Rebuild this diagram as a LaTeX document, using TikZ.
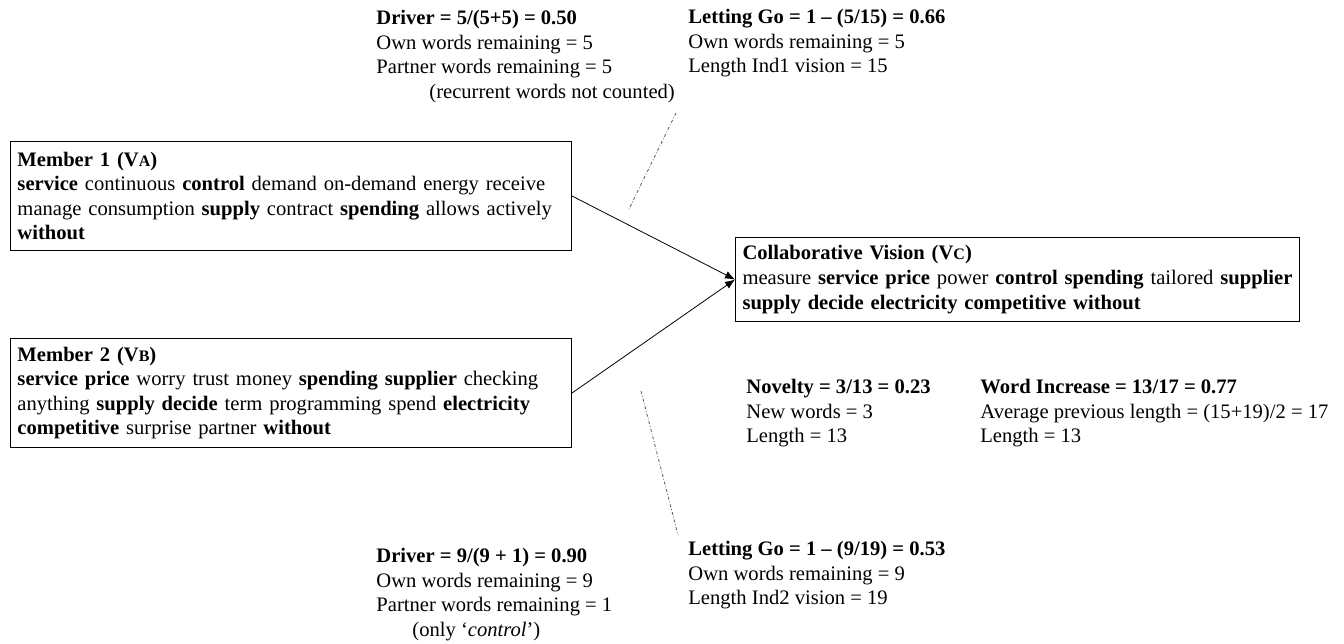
\documentclass[tikz,border=0pt]{standalone}
\usepackage{fontspec}
\setmainfont{Liberation Serif}
\usepackage{tikz}
\usetikzlibrary{arrows.meta}

\newcommand{\smcap}[1]{{\fontsize{8}{8}\selectfont #1}}

\tikzset{
  visionbox/.style={draw, line width=0.5pt, anchor=north west, align=left,
    inner xsep=3.5pt, inner ysep=0pt},
  note/.style={anchor=north west, align=left, inner sep=0pt},
  link/.style={line width=0.4pt, -{Latex[length=5pt,width=4pt]}},
  guide/.style={line width=0.4pt, gray!70!black, dash pattern=on 1.5pt off 1pt on 0.4pt off 1pt}
}

\begin{document}
\begin{tikzpicture}[x=0.5pt, y=-0.5pt, font=\fontsize{10.3}{12.3}\selectfont]
\useasboundingbox (0,0) rectangle (1344,643);

% Individual visions
\node[visionbox, minimum width=280.5pt, minimum height=54.5pt, text width=273.5pt] (va) at (10,141)
  {\textbf{Member 1 (V\smcap{A})}\\
   \textbf{service} continuous \textbf{control} demand on-demand energy receive\\
   manage consumption \textbf{supply} contract \textbf{spending} allows actively\\
   \textbf{without}};
\node[visionbox, minimum width=280.5pt, minimum height=54.5pt, text width=273.5pt] (vb) at (10,338)
  {\textbf{Member 2 (V\smcap{B})}\\
   \textbf{service price} worry trust money \textbf{spending supplier} checking\\
   anything \textbf{supply decide} term programming spend \textbf{electricity}\\
   \textbf{competitive} surprise partner \textbf{without}};

% Collaborative vision
\node[visionbox, minimum width=282pt, minimum height=42pt, text width=275pt] (vc) at (735,237)
  {\textbf{Collaborative Vision (V\smcap{C})}\\
   measure \textbf{service price} power \textbf{control spending} tailored \textbf{supplier}\\
   \textbf{supply decide electricity competitive without}};

\draw[link] (va.east) -- (vc.west);
\draw[link] (vb.east) -- (vc.west);

% Measures for member 1
\node[note] (drva) at (376,10)
  {\textbf{Driver = 5/(5+5) = 0.50}\\
   Own words remaining = 5\\
   Partner words remaining = 5\\
   \hspace*{26.5pt}(recurrent words not counted)};
\node[note] (lgva) at (688,9)
  {\textbf{Letting Go = 1 -- (5/15) = 0.66}\\
   Own words remaining = 5\\
   Length Ind1 vision = 15};

% Measures for member 2
\node[note] (drvb) at (376,548)
  {\textbf{Driver = 9/(9 + 1) = 0.90}\\
   Own words remaining = 9\\
   Partner words remaining = 1\\
   \hspace*{18pt}(only `\textit{control}')};
\node[note] (lgvb) at (688,541)
  {\textbf{Letting Go = 1 -- (9/19) = 0.53}\\
   Own words remaining = 9\\
   Length Ind2 vision = 19};

% Measures for the collaborative vision
\node[note] (nov) at (746,379)
  {\textbf{Novelty = 3/13 = 0.23}\\
   New words = 3\\
   Length = 13};
\node[note] (winc) at (980,379)
  {\textbf{Word Increase = 13/17 = 0.77}\\
   Average previous length = (15+19)/2 = 17\\
   Length = 13};

% Guide lines
\coordinate (ga1) at (676,113);
\coordinate (ga2) at (629,209);
\coordinate (gb1) at (641,391);
\coordinate (gb2) at (678,535);
\draw[guide] (ga1) -- (ga2);
\draw[guide] (gb1) -- (gb2);
\end{tikzpicture}
\end{document}
